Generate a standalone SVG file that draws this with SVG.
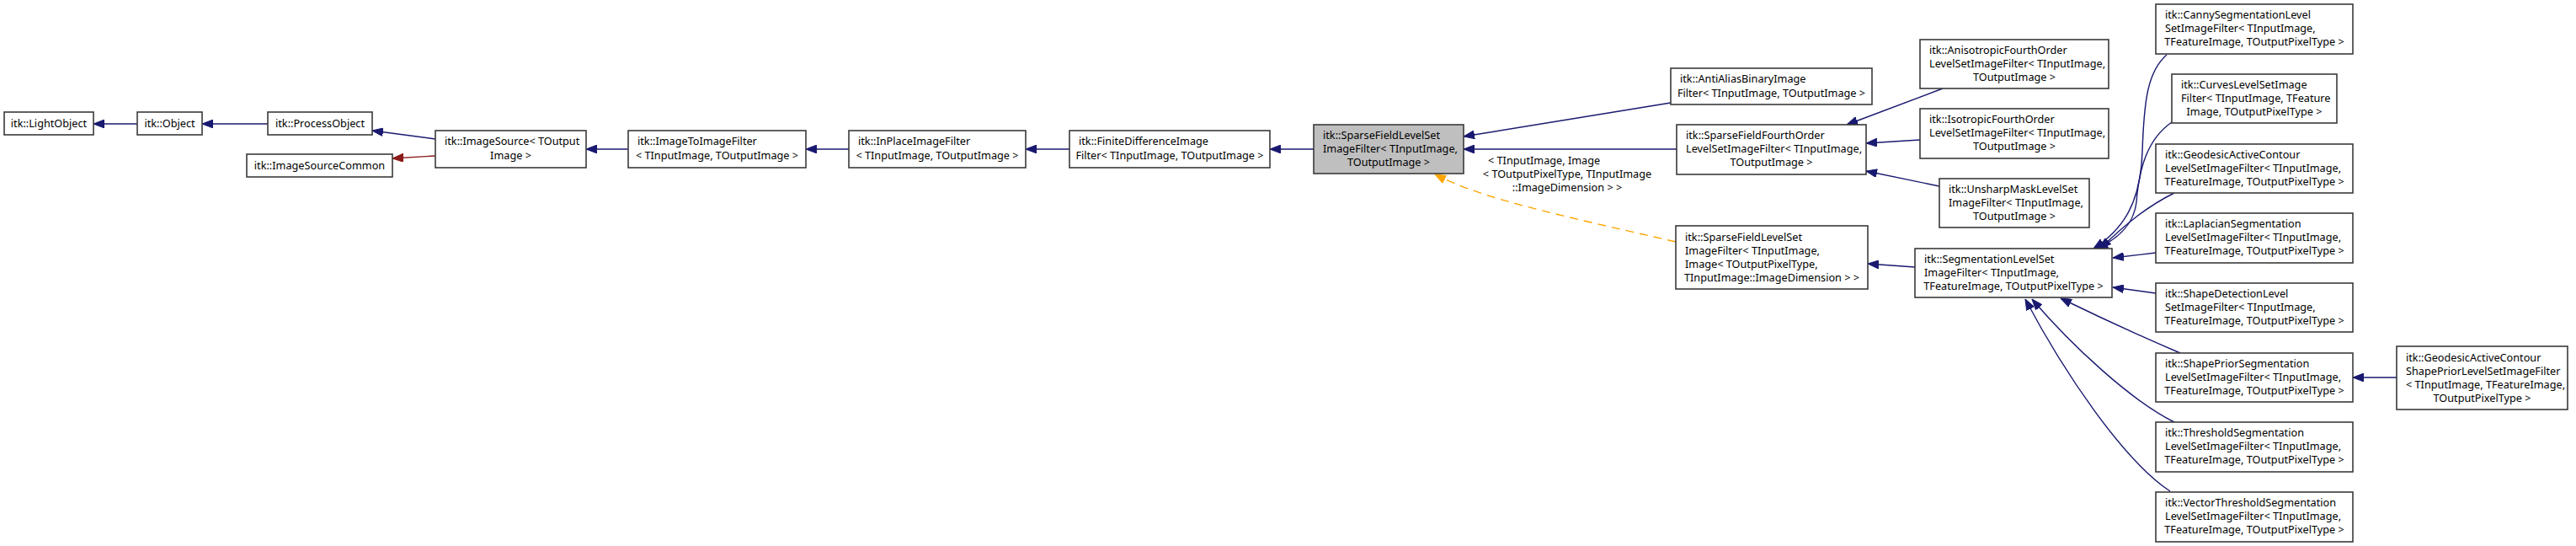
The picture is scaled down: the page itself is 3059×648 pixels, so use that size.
<svg xmlns="http://www.w3.org/2000/svg" width="3059" height="648" viewBox="0 0 3059 648">
<defs>
<style>
.n rect{fill:#ffffff;stroke:#3a3a3a;stroke-width:1.6}
.n.root rect{fill:#bfbfbf}
text{font-family:"Noto Sans","DejaVu Sans",sans-serif;font-size:12.7px;fill:#000}
.c{text-anchor:middle}
.e{fill:none;stroke:#191970;stroke-width:1.4}
.e.r{stroke:#8b1a1a}
.e.o{stroke:#ffa500;stroke-dasharray:10,7}
</style>
<marker id="ab" viewBox="0 0 13 10" refX="13" refY="5" markerWidth="13" markerHeight="10" markerUnits="userSpaceOnUse" orient="auto"><path d="M0,0 L13,5 L0,10 z" fill="#191970" stroke="#191970"/></marker>
<marker id="ar" viewBox="0 0 13 10" refX="13" refY="5" markerWidth="13" markerHeight="10" markerUnits="userSpaceOnUse" orient="auto"><path d="M0,0 L13,5 L0,10 z" fill="#8b1a1a" stroke="#8b1a1a"/></marker>
<marker id="ao" viewBox="0 0 13 10" refX="13" refY="5" markerWidth="13" markerHeight="10" markerUnits="userSpaceOnUse" orient="auto"><path d="M0,0 L13,5 L0,10 z" fill="#ffa500" stroke="#ffa500"/></marker>
</defs>
<rect width="3059" height="648" fill="#ffffff"/>
<g id="edges">
<path class="e" d="M163,147 L111,147" marker-end="url(#ab)"/>
<path class="e" d="M318,147 L240,147" marker-end="url(#ab)"/>
<path class="e" d="M517,165 L442,155" marker-end="url(#ab)"/>
<path class="e r" d="M517,185 L466,188" marker-end="url(#ar)"/>
<path class="e" d="M746,177 L696,177" marker-end="url(#ab)"/>
<path class="e" d="M1008,177 L957,177" marker-end="url(#ab)"/>
<path class="e" d="M1270,177 L1218,177" marker-end="url(#ab)"/>
<path class="e" d="M1560,177 L1508,177" marker-end="url(#ab)"/>
<path class="e" d="M1984,122 L1738,162" marker-end="url(#ab)"/>
<path class="e" d="M1991,177 L1738,177" marker-end="url(#ab)"/>
<path class="e o" d="M1990,287 C1850,255 1760,236 1704,207" marker-end="url(#ao)"/>
<text x="1767" y="195">&lt; TInputImage, Image</text>
<text class="c" x="1861" y="211">&lt; TOutputPixelType, TInputImage</text>
<text class="c" x="1861" y="227">::ImageDimension &gt; &gt;</text>
<path class="e" d="M2307,105 L2193,148" marker-end="url(#ab)"/>
<path class="e" d="M2280,166 L2216,170" marker-end="url(#ab)"/>
<path class="e" d="M2303,221 L2216,203" marker-end="url(#ab)"/>
<path class="e" d="M2274,317 L2218,313" marker-end="url(#ab)"/>
<path class="e" d="M2573,65 C2550,85 2546,120 2544,180 C2542,240 2522,272 2486,295" marker-end="url(#ab)"/>
<path class="e" d="M2579,145 C2550,165 2540,200 2537,240 C2534,265 2518,282 2490,295" marker-end="url(#ab)"/>
<path class="e" d="M2582,229 C2550,245 2525,265 2494,295" marker-end="url(#ab)"/>
<path class="e" d="M2560,300 L2509,306" marker-end="url(#ab)"/>
<path class="e" d="M2560,348 L2509,341" marker-end="url(#ab)"/>
<path class="e" d="M2589,419 C2540,398 2490,375 2447,354" marker-end="url(#ab)"/>
<path class="e" d="M2582,501 C2530,475 2460,410 2413,355" marker-end="url(#ab)"/>
<path class="e" d="M2577,583 C2520,545 2450,440 2405,355" marker-end="url(#ab)"/>
<path class="e" d="M2846,448 L2794,448" marker-end="url(#ab)"/>
</g>
<g id="n_lightobject" class="n"><rect x="5" y="133" width="106" height="27"/><text class="c" x="58" y="151">itk::LightObject</text></g>
<g id="n_object" class="n"><rect x="163" y="133" width="77" height="27"/><text class="c" x="201.5" y="151">itk::Object</text></g>
<g id="n_processobject" class="n"><rect x="318" y="133" width="124" height="27"/><text class="c" x="380" y="151">itk::ProcessObject</text></g>
<g id="n_imagesourcecommon" class="n"><rect x="293" y="183" width="173" height="27"/><text class="c" x="379.5" y="201">itk::ImageSourceCommon</text></g>
<g id="n_imagesource" class="n"><rect x="517" y="155" width="179" height="44"/><text x="528" y="172">itk::ImageSource&lt; TOutput</text><text class="c" x="606.5" y="189">Image &gt;</text></g>
<g id="n_imagetoimage" class="n"><rect x="746" y="155" width="211" height="44"/><text x="757" y="172">itk::ImageToImageFilter</text><text class="c" x="851.5" y="189">&lt; TInputImage, TOutputImage &gt;</text></g>
<g id="n_inplace" class="n"><rect x="1008" y="155" width="210" height="44"/><text x="1019" y="172">itk::InPlaceImageFilter</text><text class="c" x="1113" y="189">&lt; TInputImage, TOutputImage &gt;</text></g>
<g id="n_finitediff" class="n"><rect x="1270" y="155" width="238" height="44"/><text x="1281" y="172">itk::FiniteDifferenceImage</text><text class="c" x="1389" y="189">Filter&lt; TInputImage, TOutputImage &gt;</text></g>
<g id="n_sparsefieldlevelset" class="n root"><rect x="1560" y="148" width="178" height="58"/><text x="1571" y="165">itk::SparseFieldLevelSet</text><text x="1571" y="181">ImageFilter&lt; TInputImage,</text><text class="c" x="1649" y="197">TOutputImage &gt;</text></g>
<g id="n_antialias" class="n"><rect x="1984" y="81" width="239" height="43"/><text x="1995" y="98">itk::AntiAliasBinaryImage</text><text class="c" x="2103.5" y="115">Filter&lt; TInputImage, TOutputImage &gt;</text></g>
<g id="n_fourthorder" class="n"><rect x="1991" y="148" width="225" height="59"/><text x="2002" y="165">itk::SparseFieldFourthOrder</text><text x="2002" y="181">LevelSetImageFilter&lt; TInputImage,</text><text class="c" x="2103.5" y="197">TOutputImage &gt;</text></g>
<g id="n_sparsefieldlevelset2" class="n"><rect x="1990" y="268" width="228" height="75"/><text x="2001" y="286">itk::SparseFieldLevelSet</text><text x="2001" y="302">ImageFilter&lt; TInputImage,</text><text x="2001" y="318"> Image&lt; TOutputPixelType,</text><text class="c" x="2104" y="334">TInputImage::ImageDimension &gt; &gt;</text></g>
<g id="n_anisotropic" class="n"><rect x="2280" y="47" width="224" height="58"/><text x="2291" y="64">itk::AnisotropicFourthOrder</text><text x="2291" y="80">LevelSetImageFilter&lt; TInputImage,</text><text class="c" x="2392" y="96">TOutputImage &gt;</text></g>
<g id="n_isotropic" class="n"><rect x="2280" y="129" width="224" height="59"/><text x="2291" y="146">itk::IsotropicFourthOrder</text><text x="2291" y="162">LevelSetImageFilter&lt; TInputImage,</text><text class="c" x="2392" y="178">TOutputImage &gt;</text></g>
<g id="n_unsharp" class="n"><rect x="2303" y="212" width="178" height="58"/><text x="2314" y="229">itk::UnsharpMaskLevelSet</text><text x="2314" y="245">ImageFilter&lt; TInputImage,</text><text class="c" x="2392" y="261">TOutputImage &gt;</text></g>
<g id="n_segmentation" class="n"><rect x="2274" y="295" width="234" height="58"/><text x="2285" y="312">itk::SegmentationLevelSet</text><text x="2285" y="328">ImageFilter&lt; TInputImage,</text><text class="c" x="2391" y="344">TFeatureImage, TOutputPixelType &gt;</text></g>
<g id="n_canny" class="n"><rect x="2560" y="5" width="234" height="59"/><text x="2571" y="22">itk::CannySegmentationLevel</text><text x="2571" y="38">SetImageFilter&lt; TInputImage,</text><text class="c" x="2677" y="54">TFeatureImage, TOutputPixelType &gt;</text></g>
<g id="n_curves" class="n"><rect x="2579" y="88" width="196" height="58"/><text x="2590" y="105">itk::CurvesLevelSetImage</text><text x="2590" y="121">Filter&lt; TInputImage, TFeature</text><text class="c" x="2677" y="137">Image, TOutputPixelType &gt;</text></g>
<g id="n_geodesic" class="n"><rect x="2560" y="171" width="234" height="58"/><text x="2571" y="188">itk::GeodesicActiveContour</text><text x="2571" y="204">LevelSetImageFilter&lt; TInputImage,</text><text class="c" x="2677" y="220">TFeatureImage, TOutputPixelType &gt;</text></g>
<g id="n_laplacian" class="n"><rect x="2560" y="253" width="234" height="59"/><text x="2571" y="270">itk::LaplacianSegmentation</text><text x="2571" y="286">LevelSetImageFilter&lt; TInputImage,</text><text class="c" x="2677" y="302">TFeatureImage, TOutputPixelType &gt;</text></g>
<g id="n_shapedetection" class="n"><rect x="2560" y="336" width="234" height="58"/><text x="2571" y="353">itk::ShapeDetectionLevel</text><text x="2571" y="369">SetImageFilter&lt; TInputImage,</text><text class="c" x="2677" y="385">TFeatureImage, TOutputPixelType &gt;</text></g>
<g id="n_shapeprior" class="n"><rect x="2560" y="419" width="234" height="58"/><text x="2571" y="436">itk::ShapePriorSegmentation</text><text x="2571" y="452">LevelSetImageFilter&lt; TInputImage,</text><text class="c" x="2677" y="468">TFeatureImage, TOutputPixelType &gt;</text></g>
<g id="n_threshold" class="n"><rect x="2560" y="501" width="234" height="59"/><text x="2571" y="518">itk::ThresholdSegmentation</text><text x="2571" y="534">LevelSetImageFilter&lt; TInputImage,</text><text class="c" x="2677" y="550">TFeatureImage, TOutputPixelType &gt;</text></g>
<g id="n_vectorthreshold" class="n"><rect x="2560" y="584" width="234" height="59"/><text x="2571" y="601">itk::VectorThresholdSegmentation</text><text x="2571" y="617">LevelSetImageFilter&lt; TInputImage,</text><text class="c" x="2677" y="633">TFeatureImage, TOutputPixelType &gt;</text></g>
<g id="n_geodesicshapeprior" class="n"><rect x="2846" y="411" width="203" height="75"/><text x="2857" y="429">itk::GeodesicActiveContour</text><text x="2857" y="445">ShapePriorLevelSetImageFilter</text><text x="2857" y="461">&lt; TInputImage, TFeatureImage,</text><text class="c" x="2947.5" y="477">TOutputPixelType &gt;</text></g>
</svg>
